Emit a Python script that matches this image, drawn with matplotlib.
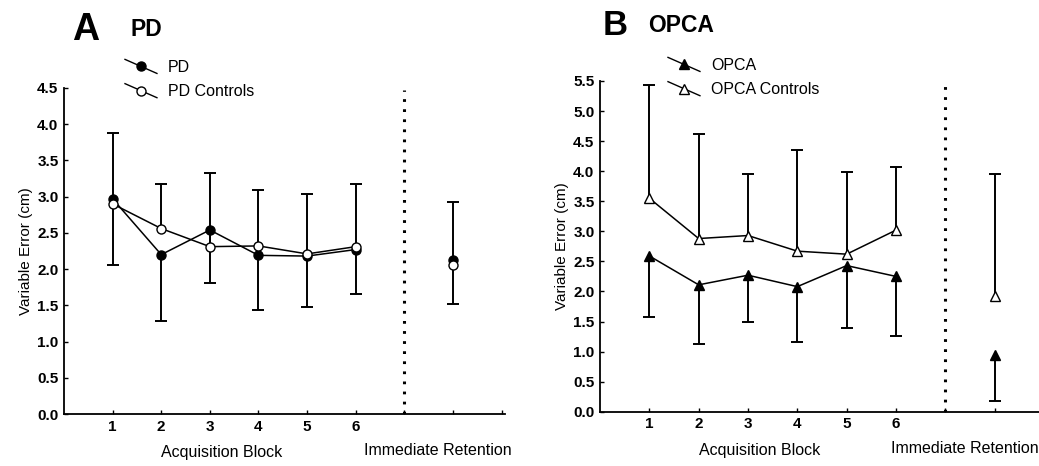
import matplotlib
matplotlib.use("Agg")
import matplotlib.pyplot as plt
from matplotlib.lines import Line2D
from matplotlib.legend_handler import HandlerLine2D
import numpy as np

plt.rcParams['font.family'] = ['Liberation Sans', 'DejaVu Sans']

# ---------------- data ----------------
blocks = [1, 2, 3, 4, 5, 6]
block_labels = ['1', '2', '3', '4', '5', '6']
retention_pos = 8
divider_pos = 7

# Panel A: PD
pd_mean = [2.97, 2.20, 2.54, 2.19, 2.18, 2.27]
pd_ret = 2.12
pd_lower = [2.05, 1.28, 1.81, 1.43, 1.48, 1.65]
pd_lower_ret = 1.52
pdc_mean = [2.90, 2.56, 2.31, 2.32, 2.21, 2.31]
pdc_ret = 2.05
pdc_upper = [3.88, 3.17, 3.33, 3.09, 3.03, 3.18]
pdc_upper_ret = 2.92

# Panel B: OPCA
opca_mean = [2.59, 2.11, 2.27, 2.08, 2.43, 2.25]
opca_ret = 0.95
opca_lower = [1.57, 1.13, 1.50, 1.16, 1.39, 1.26]
opca_lower_ret = 0.18
opcac_mean = [3.55, 2.88, 2.93, 2.67, 2.62, 3.02]
opcac_ret = 1.93
opcac_upper = [5.44, 4.62, 3.95, 4.35, 3.99, 4.07]
opcac_upper_ret = 3.95


class DiagHandler(HandlerLine2D):
    def create_artists(self, legend, orig_handle, xdescent, ydescent,
                       width, height, fontsize, trans):
        x0 = -xdescent
        x1 = -xdescent + width
        yc = height / 2.0 - ydescent
        dy = 0.22 * width
        ln = Line2D([x0, x1], [yc + dy, yc - dy], color='black', lw=1.0)
        mk = Line2D([(x0 + x1) / 2.0], [yc], ls='none',
                    marker=orig_handle.get_marker(),
                    markersize=orig_handle.get_markersize(),
                    markerfacecolor=orig_handle.get_markerfacecolor(),
                    markeredgecolor='black',
                    markeredgewidth=orig_handle.get_markeredgewidth())
        ln.set_transform(trans)
        mk.set_transform(trans)
        return [ln, mk]


fig = plt.figure(figsize=(10.39, 4.66), dpi=100)
W, H = 1039.0, 466.0


def panel(ax, pat, pat_r, pat_lo, pat_lo_r, ctl, ctl_r, ctl_up, ctl_up_r,
          pat_mk, ctl_mk, ymax, xmax, pat_lab, ctl_lab, leg_xy, ret_label_x):
    xs = blocks + [retention_pos]
    pat_all = pat + [pat_r]
    ctl_all = ctl + [ctl_r]
    lo_all = pat_lo + [pat_lo_r]
    up_all = ctl_up + [ctl_up_r]
    # error bars (one-sided: patients down, controls up)
    ax.vlines(xs, lo_all, pat_all, colors='black', lw=1.4, zorder=2)
    ax.vlines(xs, ctl_all, up_all, colors='black', lw=1.4, zorder=2)
    ax.plot(xs, lo_all, ls='none', marker='_', ms=8, mew=1.4, color='black', zorder=2)
    ax.plot(xs, up_all, ls='none', marker='_', ms=8, mew=1.4, color='black', zorder=2)
    # connecting lines
    ax.plot(blocks, pat, color='black', lw=1.1, zorder=3)
    ax.plot(blocks, ctl, color='black', lw=1.1, zorder=3)
    # markers
    ms = 6.5 if pat_mk == 'o' else 7
    h1, = ax.plot(xs, pat_all, ls='none', marker=pat_mk, ms=ms, mfc='black',
                  mec='black', mew=1.0, zorder=4, label=pat_lab)
    h2, = ax.plot(xs, ctl_all, ls='none', marker=ctl_mk, ms=ms, mfc='white',
                  mec='black', mew=1.0, zorder=5, label=ctl_lab)
    # divider
    ax.axvline(divider_pos, ymin=0, ymax=0.995, color='black', lw=2.2,
               ls=(0, (0.9, 2.4)), zorder=1)
    ax.set_xlim(0, xmax)
    ax.set_ylim(0, ymax)
    ax.set_xticks(list(range(1, 10)), block_labels + ['', '', ''],
                  fontweight='bold', fontsize=11)
    yt = np.arange(0, ymax + 0.01, 0.5)
    ax.set_yticks(yt, [f'{v:.1f}' for v in yt], fontweight='bold', fontsize=11)
    ax.tick_params(direction='in', length=3, width=1.0, pad=4)
    for s in ['top', 'right']:
        ax.spines[s].set_visible(False)
    for s in ['left', 'bottom']:
        ax.spines[s].set_linewidth(1.3)
    ax.set_ylabel('Variable Error (cm)', fontsize=11, labelpad=3)
    ax.annotate('Acquisition Block', xy=(3.24, 0), xycoords=('data', 'axes fraction'),
                xytext=(0, -31), textcoords='offset points', ha='center',
                va='baseline', fontsize=11.5)
    ax.annotate('Immediate Retention', xy=(ret_label_x, 0),
                xycoords=('data', 'axes fraction'),
                xytext=(0, -29.5), textcoords='offset points', ha='center',
                va='baseline', fontsize=11.5, annotation_clip=False)
    ax.legend(handles=[h1, h2], loc='upper left',
              bbox_to_anchor=(leg_xy[0] / W, 1 - leg_xy[1] / H),
              bbox_transform=fig.transFigure, frameon=False, borderpad=0,
              borderaxespad=0, handlelength=2.0, handletextpad=0.7,
              labelspacing=0.58, fontsize=11.5,
              handler_map={Line2D: DiagHandler()})


axA = fig.add_axes([64 / W, 1 - 414 / H, (505 - 64) / W, (414 - 88) / H])
panel(axA, pd_mean, pd_ret, pd_lower, pd_lower_ret, pdc_mean, pdc_ret,
      pdc_upper, pdc_upper_ret, 'o', 'o', 4.5, 9.07, 'PD', 'PD Controls',
      (125, 60), 7.69)

axB = fig.add_axes([600 / W, 1 - 411.7 / H, (1044 - 600) / W, (411.7 - 81) / H])
panel(axB, opca_mean, opca_ret, opca_lower, opca_lower_ret, opcac_mean, opcac_ret,
      opcac_upper, opcac_upper_ret, '^', '^', 5.5, 9.0, 'OPCA', 'OPCA Controls',
      (668, 58), 7.40)

fig.text(72 / W, 1 - 40 / H, 'A', fontsize=27, fontweight='bold', va='baseline')
fig.text(130 / W, 1 - 36 / H, 'PD', fontsize=16.5, fontweight='bold', va='baseline')
fig.text(603 / W, 1 - 35 / H, 'B', fontsize=25, fontweight='bold', va='baseline')
fig.text(648 / W, 1 - 32 / H, 'OPCA', fontsize=16.5, fontweight='bold', va='baseline')

fig.savefig('out.png', dpi=100)
